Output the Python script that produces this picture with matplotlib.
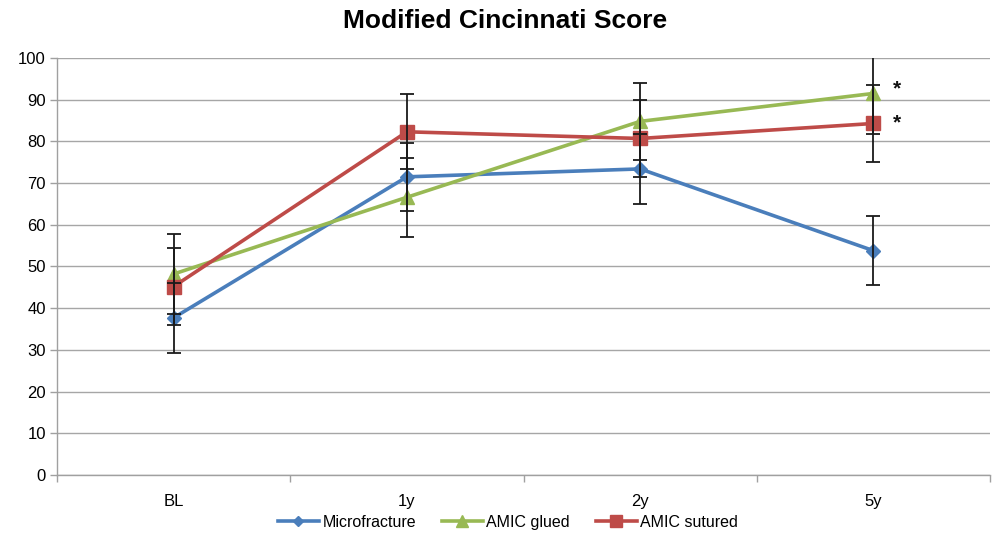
import numpy as np
import matplotlib
matplotlib.use("Agg")
import matplotlib.pyplot as plt

plt.rcParams['font.family'] = ['Liberation Sans', 'DejaVu Sans']

# Données
temps = ["BL", "1y", "2y", "5y"]
micro = [37.7, 71.5, 73.4, 53.8]
micro_err = [8.4, 8.2, 8.4, 8.3]
glued = [48.2, 66.6, 84.8, 91.5]
glued_err = [9.7, 9.5, 9.3, 9.8]
sutured = [45.2, 82.3, 80.7, 84.3]
sutured_err = [9.3, 9.0, 9.2, 9.3]
etoiles = [92.6, 84.4]  # positions des astérisques à 5y

x = np.arange(len(temps))

fig = plt.figure(figsize=(9.92, 5.41), dpi=100)
ax = fig.add_axes([0.0575, 0.122, 0.9405, 0.7708])

series = [
    (micro, micro_err, '#4a7ebb', 'D', 7, "Microfracture"),
    (glued, glued_err, '#98b954', '^', 10, "AMIC glued"),
    (sutured, sutured_err, '#be4b48', 's', 10, "AMIC sutured"),
]

for vals, err, col, mk, ms, lab in series:
    ax.plot(x, vals, color=col, linewidth=2.6, marker=mk, markersize=ms,
            markeredgecolor=col, label=lab, zorder=3)
    ax.errorbar(x, vals, yerr=err, fmt='none', ecolor='#1a1a1a',
                elinewidth=1.3, capsize=5, capthick=1.3, zorder=4)

for yv in etoiles:
    ax.text(x[-1] + 0.1, yv, "*", fontsize=15, fontweight='bold',
            ha='center', va='center', color='#111111')

ax.set_xlim(-0.5, len(temps) - 0.5)
ax.set_ylim(0, 100)
ax.set_yticks(np.arange(0, 101, 10))
ax.set_xticks(x)
ax.set_xticklabels(temps)
ax.set_xticks(np.arange(-0.5, len(temps), 1), minor=True)
ax.tick_params(axis='x', which='major', length=0, pad=14, labelsize=12)
ax.tick_params(axis='x', which='minor', length=5, color='#a0a0a0', width=1)
ax.tick_params(axis='y', length=5, color='#a0a0a0', width=1, labelsize=12, pad=3)

ax.yaxis.grid(True, color='#a6a6a6', linewidth=1)
ax.set_axisbelow(True)
for s in ['top', 'right']:
    ax.spines[s].set_visible(False)
for s in ['left', 'bottom']:
    ax.spines[s].set_color('#a0a0a0')
    ax.spines[s].set_linewidth(1)

fig.text(0.509, 0.962, "Modified Cincinnati Score", fontsize=19, fontweight='bold',
         ha='center', va='center')

handles, labels = ax.get_legend_handles_labels()
fig.legend(handles, labels, loc='center', bbox_to_anchor=(0.512, 0.035), ncol=3,
           frameon=False, fontsize=11.5, handlelength=2.6, columnspacing=1.6,
           handletextpad=0.2, markerscale=0.8)

fig.savefig("out.png", dpi=100)
